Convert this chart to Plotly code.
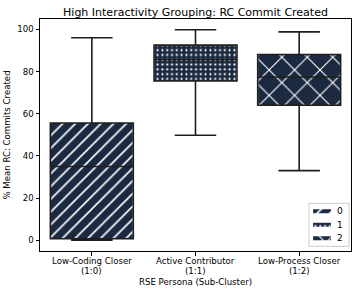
import plotly.graph_objects as go

cat_names = ["Low-Coding Closer", "Active Contributor", "Low-Process Closer"]
cat_codes = ["(1:0)", "(1:1)", "(1:2)"]
hue_labels = ["0", "1", "2"]
q1 = [0.7, 75.5, 64.0]
median = [35.0, 85.7, 77.4]
q3 = [55.6, 92.5, 88.1]
lower = [0.0, 49.8, 33.0]
upper = [96.0, 99.8, 98.8]
patterns = ["/", ".", "x"]
pattern_sizes = [9, 4.8, 18]
solidities = [0.18, 0.16, 0.12]

navy = "#1b2a41"
hatch = "#ffffff"
fig = go.Figure()
xs = list(range(len(cat_names)))
for i in xs:
    fig.add_trace(go.Bar(
        x=[i], y=[q3[i] - q1[i]], base=[q1[i]], width=0.79,
        name=hue_labels[i], showlegend=False, hoverinfo="skip",
        marker=dict(color=navy, line=dict(width=0),
                    pattern=dict(shape=patterns[i], fgcolor=hatch, bgcolor=navy,
                                 size=pattern_sizes[i], solidity=solidities[i], fillmode="replace")),
    ))
fig.add_trace(go.Box(
    x=xs, q1=q1, median=median, q3=q3, lowerfence=lower, upperfence=upper,
    width=0.8, whiskerwidth=0.5, fillcolor="rgba(0,0,0,0)",
    line=dict(color="#1e1e1e", width=1.6), showlegend=False, hoverinfo="skip",
))

# manual legend (inset axes so swatches keep their hatch patterns)
for i in xs:
    fig.add_trace(go.Bar(
        x=[1], y=[i], orientation="h", width=0.3, xaxis="x2", yaxis="y2",
        showlegend=False, hoverinfo="skip", name=hue_labels[i],
        marker=dict(color=navy, line=dict(width=0),
                    pattern=dict(shape=patterns[i], fgcolor=hatch, bgcolor=navy,
                                 size=pattern_sizes[i], solidity=solidities[i], fillmode="replace")),
    ))
    fig.add_annotation(text=hue_labels[i], xref="paper", yref="y2", x=0.948, y=i,
                       xanchor="left", yanchor="middle", showarrow=False, font=dict(size=9))

fig.add_shape(type="rect", xref="paper", yref="paper", x0=0.865, x1=0.9936, y0=0.020, y1=0.2056,
              line=dict(color="#cccccc", width=1), fillcolor="white", layer="below")

# x tick labels (two lines) and x title
for i in xs:
    fig.add_annotation(text=cat_names[i], xref="x", yref="paper", x=i, y=-0.0444,
                       xanchor="center", yanchor="middle", showarrow=False, font=dict(size=8.6))
    fig.add_annotation(text=cat_codes[i], xref="x", yref="paper", x=i, y=-0.0875,
                       xanchor="center", yanchor="middle", showarrow=False, font=dict(size=8.6))
fig.add_annotation(text="RSE Persona (Sub-Cluster)", xref="paper", yref="paper", x=0.5, y=-0.135,
                   xanchor="center", yanchor="middle", showarrow=False, font=dict(size=8.6))

fig.update_layout(
    width=357, height=293,
    margin=dict(l=40, r=6, t=19, b=42),
    paper_bgcolor="white", plot_bgcolor="white",
    font=dict(family="DejaVu Sans", size=8.6, color="black"),
    title=dict(text="High Interactivity Grouping: RC Commit Created", xref="paper", x=0.5,
               xanchor="center", yref="paper", y=1, yanchor="bottom", pad=dict(b=3),
               font=dict(size=11)),
    barmode="overlay",
    showlegend=False,
    xaxis=dict(range=[-0.5, 2.5], tickmode="array", tickvals=xs, ticktext=["", "", ""],
               showline=True, linecolor="black", linewidth=1, mirror=True,
               ticks="outside", ticklen=3.5, tickcolor="black", showgrid=False, zeroline=False),
    yaxis=dict(range=[-5.1, 104.9], tickvals=[0, 20, 40, 60, 80, 100],
               showline=True, linecolor="black", linewidth=1, mirror=True,
               ticks="outside", ticklen=3.5, tickcolor="black", showgrid=False, zeroline=False,
               title=dict(text="% Mean RC: Commits Created", standoff=5, font=dict(size=8.6)),
               tickfont=dict(size=8.6)),
    xaxis2=dict(domain=[0.878, 0.936], range=[0, 1], anchor="y2", visible=False, fixedrange=True),
    yaxis2=dict(domain=[0.0256, 0.2002], range=[2.5, -0.5], anchor="x2", visible=False, fixedrange=True),
)
fig.write_html("out.html", config={"displayModeBar": False},
               post_script="document.body.style.margin='0';")
